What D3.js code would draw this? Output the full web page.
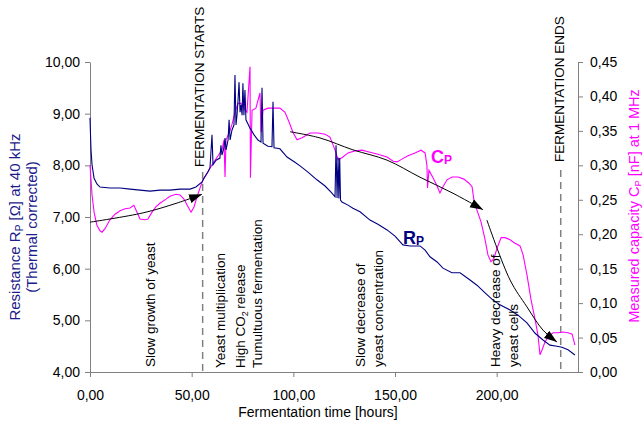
<!DOCTYPE html>
<html>
<head>
<meta charset="utf-8">
<script src="https://cdn.jsdelivr.net/npm/d3@7"></script>
<style>
  body { margin: 0; background: #fff; }
  text { font-family: Arial, "Liberation Sans", sans-serif; }
</style>
</head>
<body>
<div class="canvas"></div>
<script>
// Resistance R_P (left axis) - time [h] and value [ohm]
const rpTime = [0, 0.25, 0.5, 1, 2, 3.4, 4.9, 9.8, 14.8, 19.7, 24.6, 29.5, 34.4, 39.3, 44.3, 49.2, 52.1, 55.1,
  56.6, 58, 59, 60, 60.5, 62, 63.9, 64.4, 64.9, 65.9, 66.4, 66.9, 67.9, 68.4, 68.9, 69.8, 70.8, 71.3, 71.8, 72.3, 72.8,
  73.3, 73.8, 74.3, 74.8, 75.2, 75.7, 76.2, 76.7, 78.7, 80.7, 82.6, 84.1, 84.6, 85.1, 87.5, 89.5, 90, 90.5, 93.4,
  96.9, 100.8, 103.3, 107.2, 111.6, 115.6, 119, 120.5, 121, 121.5, 122, 122.4, 122.8, 123.2, 123.9, 126.9, 129.3,
  132.8, 137.7, 141.6, 146.1, 150, 153.9, 157.4, 162.3, 164.8, 167.2, 170.7, 173.6, 178, 182, 186.9, 190.3, 194.3,
  198.2, 201.6, 206.6, 210.5, 214.9, 218.9, 222.8, 226.2, 229.7, 232.1, 235.1, 238.5];
const rpValue = [8.92, 8.59, 8.30, 8.01, 7.75, 7.64, 7.58, 7.56, 7.56, 7.54, 7.52, 7.50, 7.52, 7.52, 7.54, 7.54, 7.58, 7.68,
  7.79, 7.87, 7.95, 8.59, 8.01, 8.10, 8.14, 8.39, 8.20, 8.34, 8.53, 8.30, 8.49, 8.88, 8.49, 8.68, 8.78, 9.75, 8.78, 8.97, 9.26,
  9.61, 9.03, 9.17, 8.97, 9.59, 8.97, 9.46, 8.88, 8.72, 8.59, 8.49, 8.45, 9.50, 8.43, 8.37, 8.36, 9.23, 8.34, 8.32,
  8.16, 8.06, 7.99, 7.87, 7.72, 7.60, 7.46, 7.39, 8.39, 7.37, 8.15, 7.36, 8.14, 7.33, 7.29, 7.23, 7.17,
  7.10, 6.94, 6.86, 6.75, 6.63, 6.46, 6.44, 6.44, 6.36, 6.23, 6.13, 6.01, 5.92, 5.92, 5.78, 5.68, 5.53,
  5.39, 5.30, 5.20, 5.10, 4.95, 4.75, 4.62, 4.52, 4.50, 4.48, 4.43, 4.33];

// Capacity C_P (right axis) - time [h] and value [nF]
const cpTime = [0, 0.5, 1, 2, 3.4, 4.9, 5.9, 7.4, 9.8, 12.3, 14.8, 17.2, 19.7, 21.6, 23.1, 24.6, 27.1, 28.5, 30.5, 32.5,
  34.4, 37.4, 39.3, 42.3, 44.3, 46.2, 48.2, 49.7, 51.2, 52.6, 54.1, 55.6, 57.1, 59, 61, 63, 64.9, 65.9, 66.4, 66.9,
  68.4, 69.8, 71.3, 72.8, 74.3, 75.7, 77.2, 78.7, 78.9, 79.7, 81.6, 83.6, 84.1, 85.1, 87.5, 91, 93.4, 95.9, 97.9,
  99.8, 101.8, 104.3, 108.2, 112.1, 115.6, 118, 119.5, 121, 122, 123.9, 126.9, 130.3, 133.8, 137.7, 141.6, 146.1,
  149.1, 151, 153.4, 156.4, 159.8, 162.8, 164.8, 165.7, 166, 166.7, 168.7, 170.7, 172.1, 173.6, 175.6, 178, 181,
  183.9, 186.4, 187.9, 188.8, 190.3, 192.3, 194.3, 195.7, 197.2, 198.7, 200.2, 202.2, 204.1, 206.6, 209, 211.5,
  213, 214.9, 216.9, 218.9, 220.3, 221.3, 222.3, 223.8, 225.7, 227.7, 230.2, 232.6, 235.1, 237.1, 238.5];
const cpValue = [0.300, 0.279, 0.257, 0.232, 0.213, 0.205, 0.203, 0.208, 0.221, 0.229, 0.234, 0.237, 0.238, 0.242, 0.232,
  0.222, 0.221, 0.222, 0.232, 0.240, 0.245, 0.251, 0.255, 0.258, 0.257, 0.251, 0.240, 0.232, 0.240, 0.254, 0.267,
  0.279, 0.286, 0.296, 0.305, 0.314, 0.322, 0.337, 0.283, 0.337, 0.347, 0.359, 0.377, 0.390, 0.390, 0.383, 0.377,
  0.443, 0.282, 0.380, 0.383, 0.405, 0.348, 0.380, 0.383, 0.383, 0.383, 0.377, 0.363, 0.348, 0.337, 0.340, 0.347,
  0.347, 0.345, 0.341, 0.330, 0.318, 0.308, 0.311, 0.318, 0.321, 0.322, 0.319, 0.316, 0.312, 0.306, 0.305, 0.309,
  0.314, 0.318, 0.322, 0.318, 0.300, 0.267, 0.293, 0.282, 0.270, 0.260, 0.269, 0.279, 0.283, 0.283, 0.280, 0.274,
  0.269, 0.250, 0.235, 0.218, 0.192, 0.170, 0.160, 0.165, 0.180, 0.195, 0.195, 0.192, 0.187, 0.183, 0.170, 0.141,
  0.105, 0.076, 0.054, 0.025, 0.032, 0.044, 0.052, 0.057, 0.057, 0.058, 0.057, 0.055, 0.039];

// Trend arrows, in (time, R_P) units
const arrow1 = [[0, 6.90], [26.1, 7.08], [42.8, 7.27], [55.1, 7.44]];
const arrow2 = [[98.4, 8.65], [113.1, 8.53], [129.3, 8.30], [146.1, 8.10], [162.3, 7.77], [178.5, 7.46], [193.3, 7.14]];
const arrow3 = [[195.2, 6.94], [206.6, 5.78], [214.9, 5.26], [222.8, 4.81], [229.7, 4.58]];

// Phase markers [hours]
const fermStart = 55.4;
const fermEnd = 231.5;

const xTicks = [0, 50, 100, 150, 200];
const rTicks = [4, 5, 6, 7, 8, 9, 10];
const cTicks = [0, 0.05, 0.10, 0.15, 0.20, 0.25, 0.30, 0.35, 0.40, 0.45];

const W = 643, H = 430;
const plot = {left: 90, right: 578, top: 62, bottom: 372};

const svg = d3.select('.canvas')
  .append('svg')
    .attr('width', W)
    .attr('height', H);

const x = d3.scaleLinear().domain([0, 240]).range([plot.left, plot.right]);
const yR = d3.scaleLinear().domain([4, 10]).range([plot.bottom, plot.top]);
const yC = d3.scaleLinear().domain([0, 0.45]).range([plot.bottom, plot.top]);

const comma = (n, d) => n.toFixed(d).replace('.', ',');

// Axes
const styleAxis = g => {
  g.selectAll('path').attr('stroke', '#808080');
  g.selectAll('line').attr('stroke', '#808080');
  g.selectAll('text').attr('font-size', 14).attr('fill', '#000')
    .attr('font-family', 'Arial, "Liberation Sans", sans-serif');
};

svg.append('g')
  .attr('transform', `translate(${plot.left},0)`)
  .call(d3.axisLeft(yR).tickValues(rTicks).tickFormat(d => comma(d, 2)).tickSize(5).tickSizeOuter(0).tickPadding(5))
  .call(styleAxis);

svg.append('g')
  .attr('transform', `translate(${plot.right},0)`)
  .call(d3.axisRight(yC).tickValues(cTicks).tickFormat(d => comma(d, 2)).tickSize(5).tickSizeOuter(0).tickPadding(7))
  .call(styleAxis);

svg.append('g')
  .attr('transform', `translate(0,${plot.bottom})`)
  .call(d3.axisBottom(x).tickValues(xTicks).tickFormat(d => comma(d, 2)).tickSize(5).tickSizeOuter(0).tickPadding(13))
  .call(styleAxis);

// Axis titles
svg.append('text')
  .attr('x', 318)
  .attr('y', 417)
  .attr('text-anchor', 'middle')
  .attr('font-size', 14)
  .text('Fermentation time [hours]');

const leftTitle = svg.append('text')
  .attr('transform', 'translate(20,227) rotate(-90)')
  .attr('text-anchor', 'middle')
  .attr('font-size', 15)
  .attr('fill', '#1c1c8c');
leftTitle.append('tspan').text('Resistance R');
leftTitle.append('tspan').attr('font-size', 10).attr('dy', 3).text('P');
leftTitle.append('tspan').attr('dy', -3).text(' [Ω] at 40 kHz');
svg.append('text')
  .attr('transform', 'translate(37,227) rotate(-90)')
  .attr('text-anchor', 'middle')
  .attr('font-size', 15)
  .attr('fill', '#1c1c8c')
  .text('(Thermal corrected)');

const rightTitle = svg.append('text')
  .attr('transform', 'translate(639,206) rotate(-90)')
  .attr('text-anchor', 'middle')
  .attr('font-size', 14.5)
  .attr('fill', '#ff00ff');
rightTitle.append('tspan').text('Measured capacity C');
rightTitle.append('tspan').attr('font-size', 9.5).attr('dy', 2).text('P');
rightTitle.append('tspan').attr('dy', -2).text(' [nF] at 1 MHz');

// Phase dashed lines
[[fermStart, 172], [fermEnd, 170]].forEach(([t, top]) => {
  svg.append('line')
    .attr('x1', x(t)).attr('x2', x(t))
    .attr('y1', top).attr('y2', plot.bottom)
    .attr('stroke', '#808080')
    .attr('stroke-width', 1.5)
    .attr('stroke-dasharray', '7,5');
});

// Data lines
const rpData = rpTime.map((t, i) => [t, rpValue[i]]);
const cpData = cpTime.map((t, i) => [t, cpValue[i]]);

svg.append('path')
  .datum(cpData)
  .attr('fill', 'none')
  .attr('stroke', '#ff00ff')
  .attr('stroke-width', 1.1)
  .attr('d', d3.line().x(d => x(d[0])).y(d => yC(d[1])));

svg.append('path')
  .datum(rpData)
  .attr('fill', 'none')
  .attr('stroke', '#000080')
  .attr('stroke-width', 1.1)
  .attr('d', d3.line().x(d => x(d[0])).y(d => yR(d[1])));

// Arrows
svg.append('defs').append('marker')
  .attr('id', 'head')
  .attr('markerUnits', 'userSpaceOnUse')
  .attr('markerWidth', 14).attr('markerHeight', 10)
  .attr('refX', 13).attr('refY', 4.5)
  .attr('orient', 'auto')
  .append('path')
    .attr('d', 'M0,0 L13,4.5 L0,9 Z')
    .attr('fill', '#000');

const arrowLine = d3.line().x(d => x(d[0])).y(d => yR(d[1])).curve(d3.curveCatmullRom);
[arrow1, arrow2, arrow3].forEach(a => {
  svg.append('path')
    .datum(a)
    .attr('fill', 'none')
    .attr('stroke', '#000')
    .attr('stroke-width', 1)
    .attr('marker-end', 'url(#head)')
    .attr('d', arrowLine);
});

// Rotated annotations: baseline time, bottom y, text parts
const vText = (t, yb, parts, size) => {
  const txt = svg.append('text')
    .attr('transform', `translate(${x(t)},${yb}) rotate(-90)`)
    .attr('font-size', size || 13.5);
  parts.forEach(p => {
    if (typeof p === 'string') txt.append('tspan').text(p);
    else txt.append('tspan').attr('font-size', 9).attr('dy', p.dy).text(p.t);
  });
};

vText(fermStart + 0.8, 167, ['FERMENTATION STARTS']);
vText(fermEnd + 1.6, 162, ['FERMENTATION ENDS']);
vText(31.9, 367, ['Slow growth of yeast']);
vText(66.4, 368, ['Yeast multiplication']);
vText(76.2, 368, ['High CO', {t: '2', dy: 3}, {t: ' ', dy: -3}, 'release']);
vText(84.6, 368, ['Tumultuous fermentation']);
vText(135.3, 367, ['Slow decrease of']);
vText(144.1, 367, ['yeast concentration']);
vText(201.6, 367, ['Heavy decrease of']);
vText(210.5, 367, ['yeast cells']);

// Series labels
const label = (t, v, main, color) => {
  const txt = svg.append('text')
    .attr('x', x(t)).attr('y', yR(v))
    .attr('font-size', 18)
    .attr('font-weight', 'bold')
    .attr('fill', color);
  txt.append('tspan').text(main);
  txt.append('tspan').attr('font-size', 12).attr('dy', 1).text('P');
};
label(167.7, 8.05, 'C', '#ff00ff');
label(153.9, 6.47, 'R', '#000080');
</script>
</body>
</html>
